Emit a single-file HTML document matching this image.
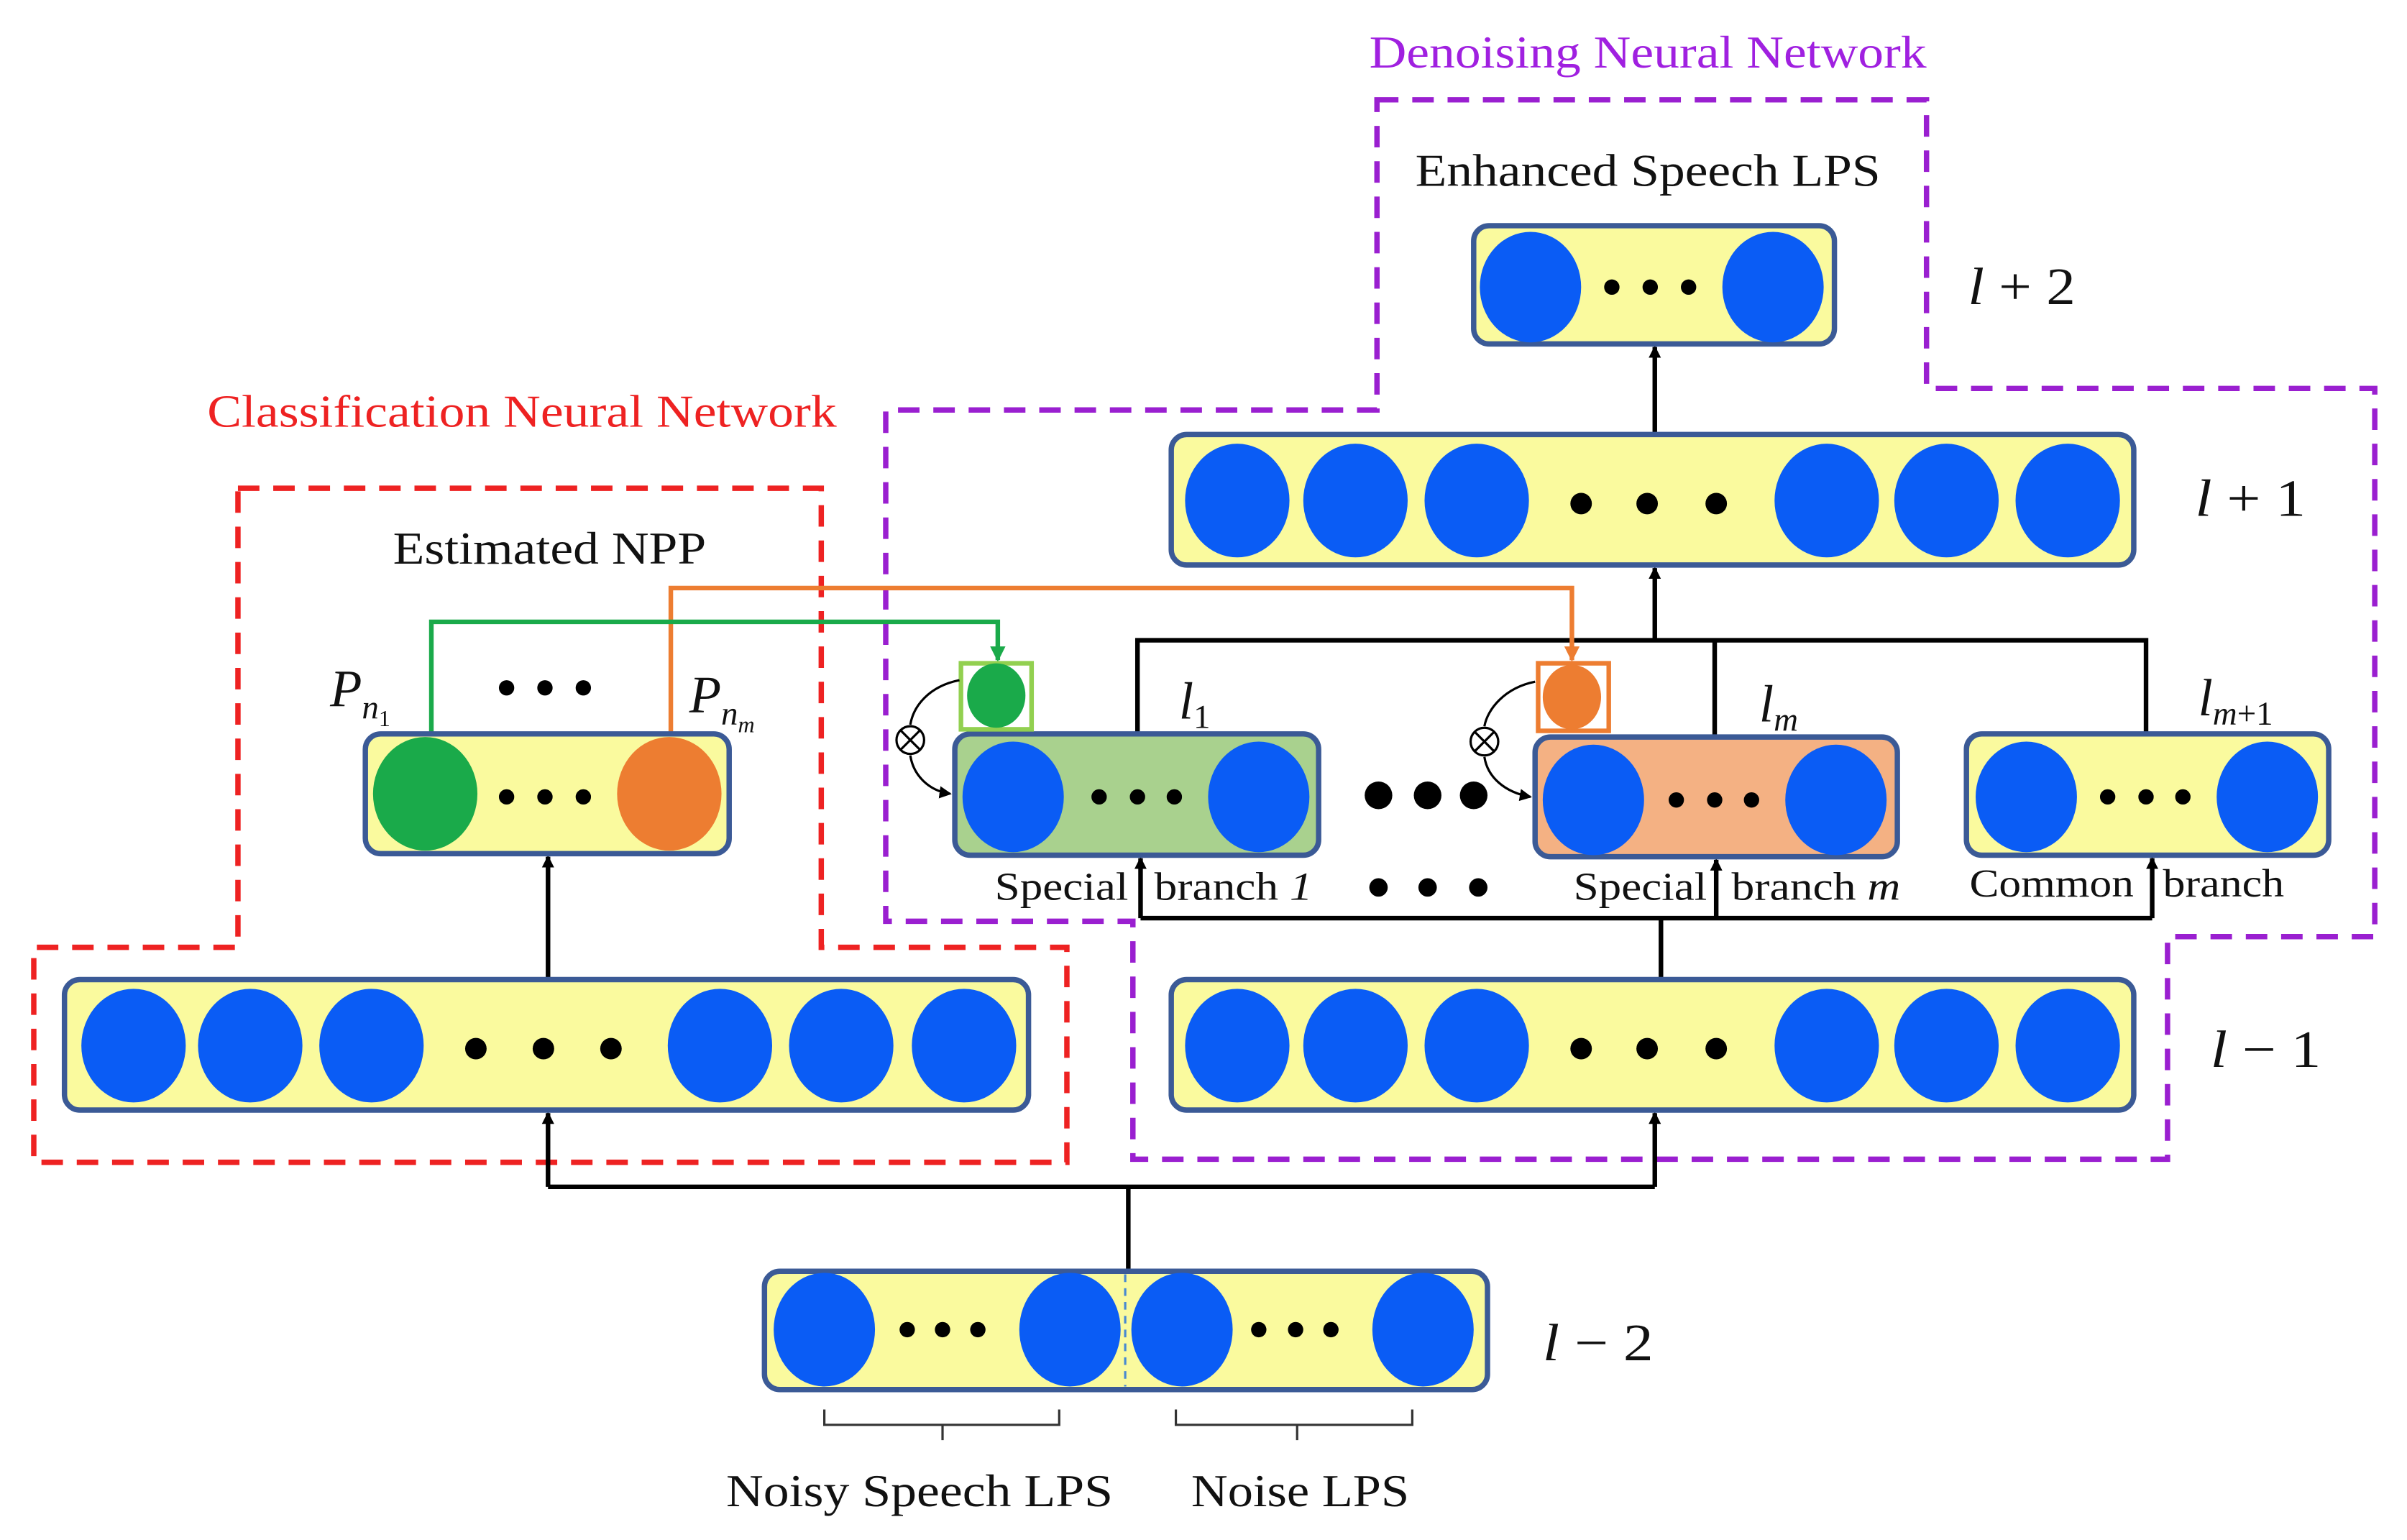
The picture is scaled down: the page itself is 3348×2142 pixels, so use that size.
<!DOCTYPE html>
<html><head><meta charset="utf-8"><style>
html,body{margin:0;padding:0;background:#fff;}
svg{display:block;}
text{font-family:"Liberation Serif",serif;}
</style></head><body>
<svg width="3348" height="2142" viewBox="0 0 1568 1003" preserveAspectRatio="none" xmlns="http://www.w3.org/2000/svg">
<defs>
<marker id="ag" markerWidth="10" markerHeight="10" refX="5" refY="9" markerUnits="userSpaceOnUse"><path d="M0,0 L10,0 L5,10 z" fill="#1aaa4a"/></marker>
<marker id="ao" markerWidth="10" markerHeight="10" refX="5" refY="9" markerUnits="userSpaceOnUse"><path d="M0,0 L10,0 L5,10 z" fill="#ed7d31"/></marker>
<marker id="ak" markerWidth="8" markerHeight="8" refX="7" refY="4" orient="auto" markerUnits="userSpaceOnUse"><path d="M0,0 L8,4 L0,8 z" fill="#000"/></marker>
</defs>

<path d="M897,65 L1255,65 L1255,253 L1547,253 L1547,610 L1412,610 L1412,755 L738,755 L738,600 L577,600 L577,267 L897,267 Z" fill="none" stroke="#9a1fd0" stroke-width="3.5" stroke-dasharray="14,9"/>
<path d="M155,318 L535,318 L535,617 L695,617 L695,757 L22,757 L22,617 L155,617 Z" fill="none" stroke="#ee2222" stroke-width="3.5" stroke-dasharray="14,9"/>
<text x="892" y="44" font-size="30" fill="#a020e0" textLength="363" lengthAdjust="spacingAndGlyphs">Denoising Neural Network</text>
<text x="135" y="278" font-size="30" fill="#ee2222" textLength="410" lengthAdjust="spacingAndGlyphs">Classification Neural Network</text>

<g stroke="#000" stroke-width="3" fill="none">
<path d="M735,828 L735,773 M357,773 L1078,773"/>
<line x1="357" y1="773" x2="357" y2="725" marker-end="url(#ak)"/>
<line x1="1078" y1="773" x2="1078" y2="725" marker-end="url(#ak)"/>
<line x1="357" y1="638" x2="357" y2="558" marker-end="url(#ak)"/>
<path d="M1082,638 L1082,598 M743,598 L1402,598"/>
<line x1="743" y1="598" x2="743" y2="559" marker-end="url(#ak)"/>
<line x1="1118" y1="598" x2="1118" y2="560" marker-end="url(#ak)"/>
<line x1="1402" y1="598" x2="1402" y2="559" marker-end="url(#ak)"/>
<path d="M741,478 L741,417 L1398,417 L1398,478 M1117,417 L1117,480"/>
<line x1="1078" y1="417" x2="1078" y2="370" marker-end="url(#ak)"/>
<line x1="1078" y1="283" x2="1078" y2="226" marker-end="url(#ak)"/>
</g>

<path d="M437,478 L437,383 L1024,383 L1024,430" fill="none" stroke="#ed7d31" stroke-width="3" marker-end="url(#ao)"/>
<path d="M281,478 L281,405 L650,405 L650,430" fill="none" stroke="#1aaa4a" stroke-width="3" marker-end="url(#ag)"/>

<g stroke="#3b5a96" stroke-width="3.5">
<rect x="960" y="147" width="235" height="77" rx="10" fill="#fafa9e"/>
<rect x="763" y="283" width="627" height="85" rx="10" fill="#fafa9e"/>
<rect x="763" y="638" width="627" height="85" rx="10" fill="#fafa9e"/>
<rect x="42" y="638" width="628" height="85" rx="10" fill="#fafa9e"/>
<rect x="238" y="478" width="237" height="78" rx="10" fill="#fafa9e"/>
<rect x="622" y="478" width="237" height="79" rx="10" fill="#a9d18e"/>
<rect x="1000" y="480" width="236" height="78" rx="10" fill="#f4b183"/>
<rect x="1281" y="478" width="236" height="79" rx="10" fill="#fafa9e"/>
<rect x="498" y="828" width="471" height="77" rx="10" fill="#fafa9e"/>
</g>
<line x1="733" y1="830" x2="733" y2="903" stroke="#4a8ad0" stroke-width="1.5" stroke-dasharray="5,4"/>

<rect x="626" y="432" width="46" height="43" fill="none" stroke="#92d050" stroke-width="3"/>
<ellipse cx="649" cy="453" rx="19" ry="21" fill="#1aaa4a"/>
<rect x="1002" y="432" width="46" height="44" fill="none" stroke="#ed7d31" stroke-width="3"/>
<ellipse cx="1024" cy="454" rx="19" ry="21" fill="#ed7d31"/>

<g fill="#0a5cf5">
<ellipse cx="997" cy="187" rx="33" ry="36"/><ellipse cx="1155" cy="187" rx="33" ry="36"/>
<ellipse cx="806" cy="326" rx="34" ry="37"/><ellipse cx="883" cy="326" rx="34" ry="37"/><ellipse cx="962" cy="326" rx="34" ry="37"/>
<ellipse cx="1190" cy="326" rx="34" ry="37"/><ellipse cx="1268" cy="326" rx="34" ry="37"/><ellipse cx="1347" cy="326" rx="34" ry="37"/>
<ellipse cx="806" cy="681" rx="34" ry="37"/><ellipse cx="883" cy="681" rx="34" ry="37"/><ellipse cx="962" cy="681" rx="34" ry="37"/>
<ellipse cx="1190" cy="681" rx="34" ry="37"/><ellipse cx="1268" cy="681" rx="34" ry="37"/><ellipse cx="1347" cy="681" rx="34" ry="37"/>
<ellipse cx="87" cy="681" rx="34" ry="37"/><ellipse cx="163" cy="681" rx="34" ry="37"/><ellipse cx="242" cy="681" rx="34" ry="37"/>
<ellipse cx="469" cy="681" rx="34" ry="37"/><ellipse cx="548" cy="681" rx="34" ry="37"/><ellipse cx="628" cy="681" rx="34" ry="37"/>
<ellipse cx="660" cy="519" rx="33" ry="36"/><ellipse cx="820" cy="519" rx="33" ry="36"/>
<ellipse cx="1038" cy="521" rx="33" ry="36"/><ellipse cx="1196" cy="521" rx="33" ry="36"/>
<ellipse cx="1320" cy="519" rx="33" ry="36"/><ellipse cx="1477" cy="519" rx="33" ry="36"/>
<ellipse cx="537" cy="866" rx="33" ry="37"/><ellipse cx="697" cy="866" rx="33" ry="37"/>
<ellipse cx="770" cy="866" rx="33" ry="37"/><ellipse cx="927" cy="866" rx="33" ry="37"/>
</g>
<ellipse cx="277" cy="517" rx="34" ry="37" fill="#1aaa4a"/>
<ellipse cx="436" cy="517" rx="34" ry="37" fill="#ed7d31"/>

<g fill="#000">
<circle cx="1050" cy="187" r="5"/><circle cx="1075" cy="187" r="5"/><circle cx="1100" cy="187" r="5"/>
<circle cx="1030" cy="328" r="7"/><circle cx="1073" cy="328" r="7"/><circle cx="1118" cy="328" r="7"/>
<circle cx="1030" cy="683" r="7"/><circle cx="1073" cy="683" r="7"/><circle cx="1118" cy="683" r="7"/>
<circle cx="310" cy="683" r="7"/><circle cx="354" cy="683" r="7"/><circle cx="398" cy="683" r="7"/>
<circle cx="330" cy="519" r="5"/><circle cx="355" cy="519" r="5"/><circle cx="380" cy="519" r="5"/>
<circle cx="330" cy="448" r="5"/><circle cx="355" cy="448" r="5"/><circle cx="380" cy="448" r="5"/>
<circle cx="716" cy="519" r="5"/><circle cx="741" cy="519" r="5"/><circle cx="765" cy="519" r="5"/>
<circle cx="1092" cy="521" r="5"/><circle cx="1117" cy="521" r="5"/><circle cx="1141" cy="521" r="5"/>
<circle cx="1373" cy="519" r="5"/><circle cx="1398" cy="519" r="5"/><circle cx="1422" cy="519" r="5"/>
<circle cx="898" cy="518" r="9"/><circle cx="930" cy="518" r="9"/><circle cx="960" cy="518" r="9"/>
<circle cx="898" cy="578" r="6"/><circle cx="930" cy="578" r="6"/><circle cx="963" cy="578" r="6"/>
<circle cx="591" cy="866" r="5"/><circle cx="614" cy="866" r="5"/><circle cx="637" cy="866" r="5"/>
<circle cx="820" cy="866" r="5"/><circle cx="844" cy="866" r="5"/><circle cx="867" cy="866" r="5"/>
</g>

<g stroke="#000" stroke-width="1.5" fill="none">
<path d="M625,443 C605,447 595,460 593,472"/>
<path d="M593,492 C595,505 605,515 619,517" marker-end="url(#ak)"/>
<circle cx="593" cy="482" r="9" fill="#fff"/>
<path d="M587,476 L599,488 M599,476 L587,488"/>
<path d="M1000,444 C980,448 969,462 967,473"/>
<path d="M967,493 C969,506 980,516 997,519" marker-end="url(#ak)"/>
<circle cx="967" cy="483" r="9" fill="#fff"/>
<path d="M961,477 L973,489 M973,477 L961,489"/>
</g>

<g stroke="#333" stroke-width="1.5" fill="none">
<path d="M537,918 L537,928 L690,928 L690,918 M614,928 L614,938"/>
<path d="M766,918 L766,928 L920,928 L920,918 M845,928 L845,938"/>
</g>

<g font-size="30" fill="#111" lengthAdjust="spacingAndGlyphs">
<text x="922" y="121" textLength="303" lengthAdjust="spacingAndGlyphs">Enhanced Speech LPS</text>
<text x="256" y="367" textLength="204" lengthAdjust="spacingAndGlyphs">Estimated NPP</text>
<text x="473" y="981" textLength="252" lengthAdjust="spacingAndGlyphs">Noisy Speech LPS</text>
<text x="776" y="981" textLength="142" lengthAdjust="spacingAndGlyphs">Noise LPS</text>
</g>
<g font-size="26" fill="#111">
<text x="648" y="586" textLength="87" lengthAdjust="spacingAndGlyphs">Special</text>
<text x="752" y="586" textLength="103" lengthAdjust="spacingAndGlyphs">branch <tspan font-style="italic">1</tspan></text>
<text x="1025" y="586" textLength="87" lengthAdjust="spacingAndGlyphs">Special</text>
<text x="1128" y="586" textLength="110" lengthAdjust="spacingAndGlyphs">branch <tspan font-style="italic">m</tspan></text>
<text x="1283" y="584" textLength="107" lengthAdjust="spacingAndGlyphs">Common</text>
<text x="1409" y="584" textLength="79" lengthAdjust="spacingAndGlyphs">branch</text>
</g>
<g font-size="34" fill="#111" font-style="italic">
<text x="1282" y="198" textLength="70" lengthAdjust="spacingAndGlyphs">l <tspan font-style="normal">+ 2</tspan></text>
<text x="1430" y="336" textLength="72" lengthAdjust="spacingAndGlyphs">l <tspan font-style="normal">+ 1</tspan></text>
<text x="1440" y="695" textLength="72" lengthAdjust="spacingAndGlyphs">l <tspan font-style="normal">− 1</tspan></text>
<text x="1005" y="886" textLength="72" lengthAdjust="spacingAndGlyphs">l <tspan font-style="normal">− 2</tspan></text>
<text x="215" y="460">P<tspan font-size="22" dy="8">n</tspan><tspan font-size="15" dy="5" font-style="normal">1</tspan></text>
<text x="449" y="464">P<tspan font-size="22" dy="8">n</tspan><tspan font-size="15" dy="5">m</tspan></text>
<text x="768" y="468">l<tspan font-size="22" dy="6" font-style="normal">1</tspan></text>
<text x="1146" y="470">l<tspan font-size="22" dy="6">m</tspan></text>
<text x="1432" y="466">l<tspan font-size="22" dy="6">m<tspan font-style="normal">+1</tspan></tspan></text>
</g>
</svg>
</body></html>
